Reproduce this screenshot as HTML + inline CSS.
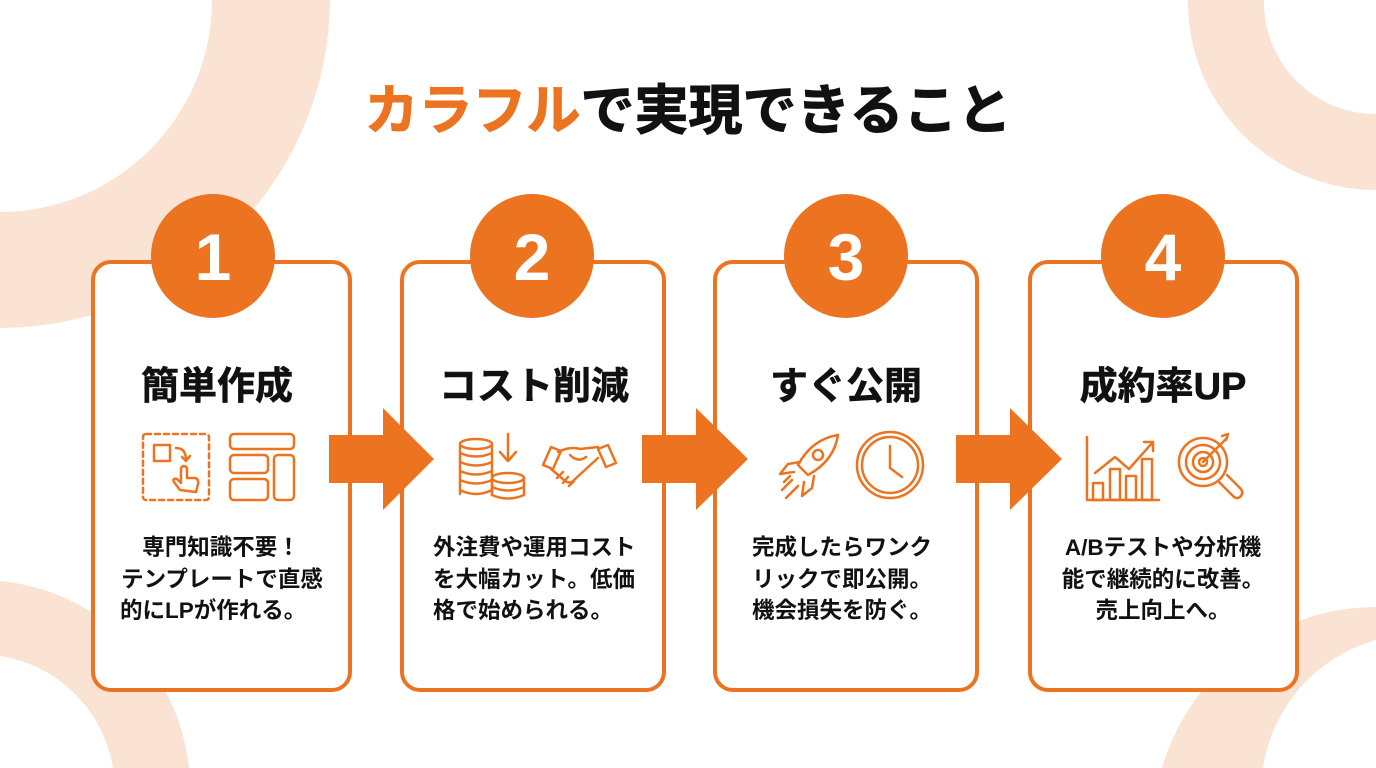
<!DOCTYPE html>
<html><head><meta charset="utf-8"><style>
html,body{margin:0;padding:0;background:#fff;}
svg{display:block;}
text{font-family:"Liberation Sans","Noto Sans CJK JP",sans-serif;font-weight:bold;}
</style></head><body>
<svg width="1376" height="768" viewBox="0 0 1376 768" xmlns="http://www.w3.org/2000/svg">
<rect width="1376" height="768" fill="#fff"/>
<g fill="#FBE3D4">
<path fill-rule="evenodd" d="M0,0 L330,0 A330,330 0 0 1 0,328 Z M0,0 L212,0 A212,212 0 0 1 0,212 Z"/>
<path fill-rule="evenodd" d="M1376,0 L1188,0 A188,188 0 0 0 1376,190 Z M1376,0 L1264,0 A112,112 0 0 0 1376,114 Z"/>
<path fill-rule="evenodd" d="M0,768 L0,581 A210,210 0 0 1 189,768 Z M0,768 L0,656 A135,135 0 0 1 113,768 Z"/>
<path d="M1376,607 L1376,640 A157,157 0 0 0 1263,768 L1162,768 A223,223 0 0 1 1376,607 Z"/>
</g>
<text x="688" y="129" font-size="54" text-anchor="middle" stroke-width="1"><tspan fill="#EC7320" stroke="#EC7320">カラフル</tspan><tspan fill="#111" stroke="#111">で実現できること</tspan></text>
<g fill="#fff" stroke="#EC7320" stroke-width="4">
<rect x="93" y="262" width="257" height="428" rx="18"/>
<rect x="402" y="262" width="262" height="428" rx="18"/>
<rect x="715" y="262" width="262" height="428" rx="18"/>
<rect x="1030" y="262" width="267" height="428" rx="18"/>
</g>
<g fill="#EC7320">
<circle cx="213" cy="256" r="62"/><circle cx="532" cy="256" r="62"/><circle cx="846" cy="256" r="62"/><circle cx="1163" cy="256" r="62"/>
<path d="M329,435 H383 V408 L434,459 L383,510 V483 H329 Z"/>
<path d="M642,435 H696 V408 L748,459 L696,510 V483 H642 Z"/>
<path d="M956,435 H1010 V408 L1062,459 L1010,510 V483 H956 Z"/>
</g>
<g fill="#fff" font-size="66" text-anchor="middle">
<text x="213" y="280">1</text><text x="532" y="280">2</text><text x="846" y="280">3</text><text x="1163" y="280">4</text>
</g>
<g fill="#111" stroke="#111" stroke-width="0.6" font-size="38" text-anchor="middle">
<text x="217" y="399">簡単作成</text><text x="534" y="399">コスト削減</text><text x="846" y="399">すぐ公開</text><text x="1163" y="399">成約率UP</text>
</g>
<g fill="#111" font-size="22.5">
<text x="221" y="555" text-anchor="middle">専門知識不要！</text><text x="222" y="587" text-anchor="middle">テンプレートで直感</text><text x="120" y="618">的にLPが作れる。</text>
<text x="433" y="555">外注費や運用コスト</text><text x="433" y="587">を大幅カット。低価</text><text x="433" y="618">格で始められる。</text>
<text x="752" y="555">完成したらワンク</text><text x="752" y="587">リックで即公開。</text><text x="752" y="618">機会損失を防ぐ。</text>
<text x="1163" y="555" text-anchor="middle">A/Bテストや分析機</text><text x="1163" y="587" text-anchor="middle">能で継続的に改善。</text><text x="1163" y="618" text-anchor="middle">売上向上へ。</text>
</g>
<g fill="none" stroke="#EC7320" stroke-width="2.5" stroke-linecap="round" stroke-linejoin="round">
<rect x="143" y="434" width="66" height="66" rx="3" stroke-dasharray="5 4"/>
<rect x="154" y="445" width="16" height="16"/>
<path d="M176,448 q10,0 10,12 M182,457 l4,4 4,-5"/>
<path d="M180,490 l-6,-8 q-2,-4 3,-3 l4,4 v-15 q3,-4 6,0 v10 h8 q4,1 3,6 l-2,8 z"/>
<rect x="230" y="434" width="64" height="15" rx="4"/>
<rect x="230" y="455" width="38" height="18" rx="4"/>
<rect x="230" y="479" width="38" height="21" rx="4"/>
<rect x="274" y="455" width="20" height="45" rx="4"/>
<ellipse cx="476" cy="444" rx="16" ry="5"/>
<path d="M460,444 V494 M492,444 V494 M460,453 q16,7 32,0 M460,462 q16,7 32,0 M460,471 q16,7 32,0 M460,480 q16,7 32,0 M460,490 q16,8 32,0"/>
<ellipse cx="508" cy="478" rx="16" ry="5"/>
<path d="M492,478 V495 M524,478 V495 M492,487 q16,7 32,0 M492,495 q16,7 32,0"/>
<path d="M508,434 V458 M500,452 l8,9 8,-9"/>
<path d="M543,465 l8,-18 10,4 -8,18 z M616,463 l-8,-18 -10,4 8,18 z"/>
<path d="M558,452 q12,-6 22,-3 l18,-2 M598,458 l-24,22 q-4,5 -10,0 l-14,-12 M570,455 q8,8 16,2 M563,472 l-6,6 M568,477 l-5,6 M574,481 l-5,5"/>
<path d="M838,435 q-26,4 -40,30 l10,10 q26,-14 30,-40 z"/>
<circle cx="818" cy="455" r="5"/>
<path d="M800,462 l-12,2 -8,10 14,-2 M814,476 l-2,12 -10,8 2,-14 M792,480 l-10,10 M798,486 l-12,12 M790,476 l-6,6"/>
<circle cx="890" cy="465" r="33"/><circle cx="890" cy="465" r="28"/>
<path d="M890,446 V468 L902,477"/>
<path d="M1087,437 V500 H1159"/>
<rect x="1093" y="483" width="10" height="17"/><rect x="1110" y="469" width="10" height="31"/><rect x="1126" y="476" width="10" height="24"/><rect x="1142" y="459" width="10" height="41"/>
<path d="M1095,473 l20,-16 14,12 24,-27 M1144,442 h9 v9"/>
<circle cx="1203" cy="462" r="24"/><circle cx="1203" cy="462" r="17"/><circle cx="1203" cy="462" r="10"/><circle cx="1203" cy="462" r="4"/>
<path d="M1203,462 l24,-24 M1222,436 l6,-2 -2,6 M1219,482 l14,14 q4,4 8,0 q3,-4 -1,-8 l-13,-13"/>
</g>
</svg>
</body></html>
